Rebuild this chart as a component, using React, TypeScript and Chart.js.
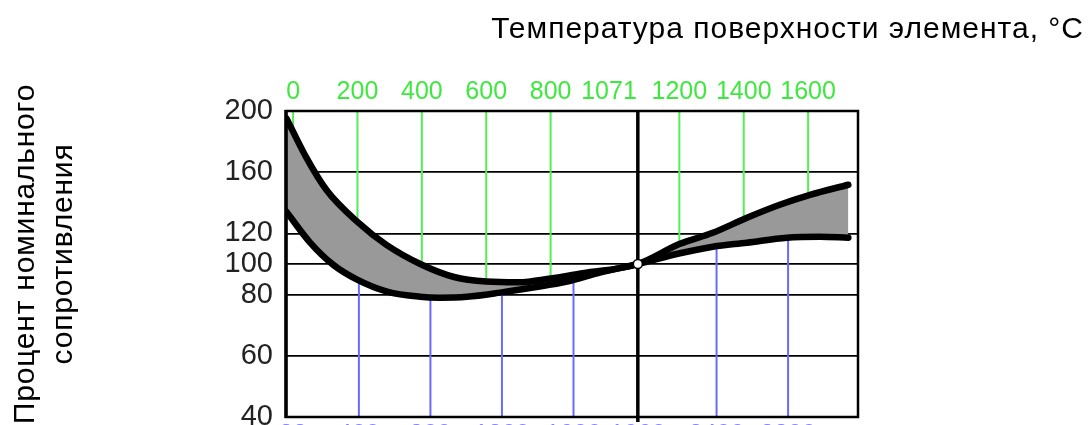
import React, { useEffect, useRef } from 'react';
import { Chart, registerables, LinearScale } from 'chart.js';

// ---------- texts ----------
const TITLE_X = 'Температура поверхности элемента, °C';
const TITLE_Y = ['Процент номинального', 'сопротивления'];

// ---------- axes ----------
const TEMP_TICKS_C = [0, 200, 400, 600, 800, 1200, 1400, 1600];
const REF_TEMP_C = 1071;
const REF_PERCENT = 100;
const TEMP_TICKS_F = [32, 400, 800, 1200, 1600, 1960, 2400, 2800];
const BLUE_LINES_F = [400, 800, 1200, 1600, 2400, 2800];
const PERCENT_TICKS = [40, 60, 80, 100, 120, 160, 200];

// ---------- band limits (°C -> % of nominal resistance) ----------
const UPPER_TEMP = [-20, 40, 105, 200, 290, 400, 500, 600, 700, 800, 900, 1071, 1200, 1304, 1410, 1512, 1606, 1725];
const UPPER_PCT = [195, 170, 148, 127.5, 112.5, 99.5, 91.5, 88.5, 88, 90.5, 94, 100, 113, 120.4, 130.2, 138.7, 145.2, 151.8];
const LOWER_TEMP = [-20, 53, 124, 199, 292, 394, 456, 540, 643, 745, 851, 953, 1071, 1202, 1304, 1410, 1534, 1637, 1725];
const LOWER_PCT = [134, 114, 99.6, 89.8, 82, 79.3, 79, 79.3, 81.3, 84.6, 88.5, 94.4, 100, 107, 111.3, 113.9, 117.2, 117.8, 117.2];

const X_MIN_C = -22;
const X_MAX_C = 1755;
const Y_MIN = 40;
const Y_MAX = 200;
const Y_BREAK = 80;
const Y_LOWER_STRETCH = 2;
const cToF = (c: number) => (c * 9) / 5 + 32;

const FONT = '"Liberation Sans", Arial, Helvetica, sans-serif';
const GREEN = '#3fe83f';
const GREEN_LINE = '#55ee55';
const BLUE_LINE = '#6a6aff';
const TOP_PAD = 4;
const TOP_FONT = 25;

// y axis with a different scale below 80 %
class BrokenLinearScale extends LinearScale {
  static id = 'brokenLinear';
  static defaults = {};
  tr(v: number) {
    return v >= Y_BREAK ? v : Y_BREAK - (Y_BREAK - v) * Y_LOWER_STRETCH;
  }
  getPixelForValue(value: number) {
    if (value === null || value === undefined || isNaN(value)) return NaN;
    const lo = this.tr(this.min);
    const hi = this.tr(this.max);
    return this.getPixelForDecimal((this.tr(value) - lo) / (hi - lo));
  }
  getValueForPixel(pixel: number) {
    const lo = this.tr(this.min);
    const hi = this.tr(this.max);
    const u = lo + this.getDecimalForPixel(pixel) * (hi - lo);
    return u >= Y_BREAK ? u : Y_BREAK - (Y_BREAK - u) / Y_LOWER_STRETCH;
  }
}

Chart.register(...registerables, BrokenLinearScale);

const zeroPad = (s: any) => {
  s.paddingTop = 0;
  s.paddingBottom = 0;
  s.paddingLeft = 0;
  s.paddingRight = 0;
};

const overlayPlugin = {
  id: 'overlay',
  beforeDatasetsDraw(chart: any) {
    const { ctx, chartArea: a, scales } = chart;
    const xs = scales.x;
    const xf = scales.xF;
    const upper = chart.getDatasetMeta(0).dataset;
    const lower = chart.getDatasetMeta(1).dataset;
    upper.updateControlPoints(a, 'x');
    lower.updateControlPoints(a, 'x');

    // green verticals above the upper limit
    ctx.save();
    ctx.beginPath();
    upper.path(ctx);
    let pts = upper.points;
    ctx.lineTo(a.right, pts[pts.length - 1].y);
    ctx.lineTo(a.right, a.top);
    ctx.lineTo(a.left, a.top);
    ctx.lineTo(a.left, pts[0].y);
    ctx.closePath();
    ctx.clip();
    ctx.strokeStyle = GREEN_LINE;
    ctx.lineWidth = 2;
    for (const t of TEMP_TICKS_C) {
      const px = xs.getPixelForValue(t);
      ctx.beginPath();
      ctx.moveTo(px, a.top);
      ctx.lineTo(px, a.bottom);
      ctx.stroke();
    }
    ctx.restore();

    // blue verticals below the lower limit
    ctx.save();
    ctx.beginPath();
    lower.path(ctx);
    pts = lower.points;
    ctx.lineTo(a.right, pts[pts.length - 1].y);
    ctx.lineTo(a.right, a.bottom);
    ctx.lineTo(a.left, a.bottom);
    ctx.lineTo(a.left, pts[0].y);
    ctx.closePath();
    ctx.clip();
    ctx.strokeStyle = BLUE_LINE;
    ctx.lineWidth = 2;
    for (const f of BLUE_LINES_F) {
      const px = xf.getPixelForValue(f);
      ctx.beginPath();
      ctx.moveTo(px, a.top);
      ctx.lineTo(px, a.bottom);
      ctx.stroke();
    }
    ctx.restore();

    // reference temperature line
    const rx = xs.getPixelForValue(REF_TEMP_C);
    ctx.save();
    ctx.strokeStyle = '#000';
    ctx.lineWidth = 3.5;
    ctx.beginPath();
    ctx.moveTo(rx, a.top);
    ctx.lineTo(rx, a.bottom + 5);
    ctx.stroke();
    ctx.restore();
  },
  afterDatasetsDraw(chart: any) {
    const { ctx, chartArea: a } = chart;
    ctx.save();
    ctx.strokeStyle = '#000';
    ctx.lineWidth = 2.5;
    ctx.strokeRect(a.left, a.top, a.right - a.left, a.bottom - a.top);
    ctx.lineWidth = 3.5;
    ctx.beginPath();
    ctx.moveTo(a.left, a.top - 1);
    ctx.lineTo(a.left, a.bottom + 1);
    ctx.stroke();
    ctx.restore();
  },
  afterDraw(chart: any) {
    const { ctx, scales } = chart;
    const xs = scales.x;
    ctx.save();
    // label of the reference temperature
    ctx.font = `${TOP_FONT}px ${FONT}`;
    ctx.fillStyle = GREEN;
    ctx.textAlign = 'right';
    ctx.textBaseline = 'middle';
    ctx.fillText(String(REF_TEMP_C), xs.getPixelForValue(REF_TEMP_C) - 1, xs.bottom - TOP_PAD - (TOP_FONT * 1.2) / 2);

    // main title
    ctx.font = `30px ${FONT}`;
    ctx.fillStyle = '#000';
    ctx.textAlign = 'right';
    ctx.textBaseline = 'alphabetic';
    (ctx as any).letterSpacing = '1px';
    ctx.fillText(TITLE_X, 1084, 38);

    // y title
    ctx.font = `30px ${FONT}`;
    ctx.textAlign = 'center';
    (ctx as any).letterSpacing = '0.8px';
    const bases = [34, 72];
    TITLE_Y.forEach((line, i) => {
      ctx.save();
      ctx.translate(bases[i], 254);
      ctx.rotate(-Math.PI / 2);
      ctx.fillText(line, 0, 0);
      ctx.restore();
    });
    ctx.restore();
  },
};

export default function App() {
  const ref = useRef<HTMLCanvasElement | null>(null);

  useEffect(() => {
    document.body.style.margin = '0';
    document.body.style.overflow = 'hidden';
    const canvas = ref.current;
    if (!canvas) return;

    const lineStyle = {
      borderColor: '#000',
      borderWidth: 6.5,
      pointRadius: 0,
      pointHoverRadius: 0,
      cubicInterpolationMode: 'monotone' as const,
      borderCapStyle: 'round' as const,
      borderJoinStyle: 'round' as const,
    };

    const chart = new Chart(canvas, {
      type: 'line',
      data: {
        datasets: [
          {
            label: 'upper',
            data: UPPER_TEMP.map((t, i) => ({ x: t, y: UPPER_PCT[i] })),
            ...lineStyle,
            fill: '+1',
            backgroundColor: '#999999',
          },
          {
            label: 'lower',
            data: LOWER_TEMP.map((t, i) => ({ x: t, y: LOWER_PCT[i] })),
            ...lineStyle,
            fill: false,
          },
          {
            label: 'nominal',
            data: [{ x: REF_TEMP_C, y: REF_PERCENT }],
            showLine: false,
            pointRadius: 4.5,
            pointHoverRadius: 4.5,
            pointBackgroundColor: '#fff',
            pointBorderColor: '#000',
            pointBorderWidth: 1.5,
            order: -1,
          },
        ],
      },
      options: {
        responsive: false,
        animation: false,
        events: [],
        layout: { padding: { top: 50, left: 226, right: 231, bottom: 0 } },
        plugins: {
          legend: { display: false },
          tooltip: { enabled: false },
          title: { display: false },
          filler: { drawTime: 'beforeDatasetsDraw' },
        },
        scales: {
          x: {
            type: 'linear',
            position: 'top',
            min: X_MIN_C,
            max: X_MAX_C,
            afterBuildTicks: (s: any) => {
              s.ticks = TEMP_TICKS_C.map((v) => ({ value: v }));
            },
            afterFit: (s: any) => {
              s.height = 61;
              zeroPad(s);
            },
            grid: { display: false, drawTicks: false },
            border: { display: false },
            ticks: {
              autoSkip: false,
              maxRotation: 0,
              padding: TOP_PAD,
              color: GREEN,
              font: { family: FONT, size: TOP_FONT },
              callback: (v: any) => String(v),
            },
          },
          xF: {
            type: 'linear',
            position: 'bottom',
            min: cToF(X_MIN_C),
            max: cToF(X_MAX_C),
            afterBuildTicks: (s: any) => {
              s.ticks = TEMP_TICKS_F.map((v) => ({ value: v }));
            },
            afterFit: (s: any) => {
              s.height = 8;
              zeroPad(s);
            },
            grid: { display: false, drawTicks: false },
            border: { display: false },
            ticks: {
              autoSkip: false,
              maxRotation: 0,
              padding: 3,
              color: '#8080ff',
              font: { family: FONT, size: TOP_FONT },
              callback: (v: any) => String(v),
            },
          },
          y: {
            type: 'brokenLinear' as any,
            min: Y_MIN,
            max: Y_MAX,
            afterBuildTicks: (s: any) => {
              s.ticks = PERCENT_TICKS.map((v) => ({ value: v }));
            },
            afterFit: (s: any) => {
              s.width = 60;
              zeroPad(s);
            },
            grid: { color: '#000', lineWidth: 1.8, drawTicks: false },
            border: { display: false },
            ticks: {
              padding: 13,
              color: '#222',
              font: { family: FONT, size: 29 },
              callback: (v: any) => String(v),
            },
          },
        },
      },
      plugins: [overlayPlugin],
    } as any);

    return () => chart.destroy();
  }, []);

  return (
    <div style={{ width: 1089, height: 425, position: 'relative' }}>
      <canvas ref={ref} width={1089} height={425} style={{ display: 'block' }} />
    </div>
  );
}
